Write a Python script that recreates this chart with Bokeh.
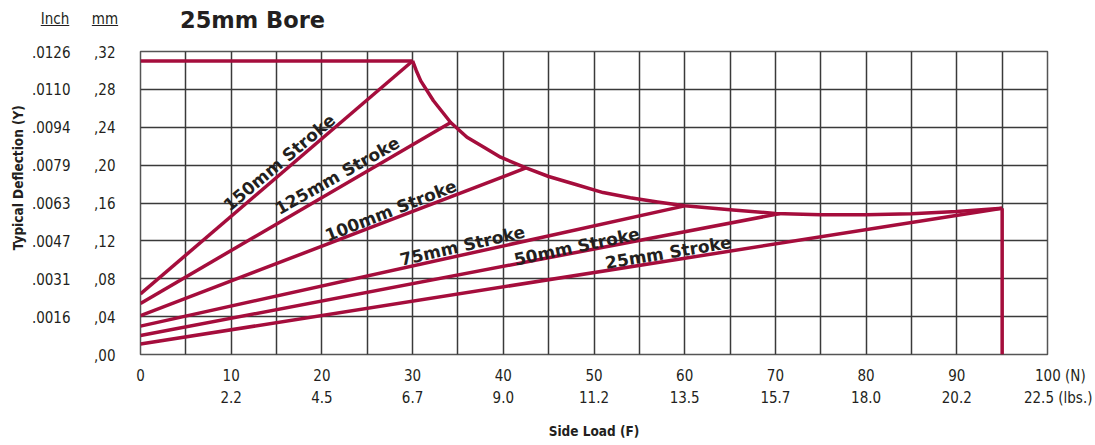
from bokeh.plotting import figure
from bokeh.models import FixedTicker, LinearAxis, Range1d, Div
from bokeh.layouts import column
from bokeh.core.properties import value
from bokeh.embed import file_html
from bokeh.resources import INLINE

# ---------------- data ----------------
strokes = ["150mm Stroke", "125mm Stroke", "100mm Stroke", "75mm Stroke", "50mm Stroke", "25mm Stroke"]
stroke_start_mm = [0.064, 0.054, 0.041, 0.030, 0.020, 0.011]   # deflection at 0 N
stroke_end_load = [30, 34.2, 42.5, 60, 70.5, 95]                 # N where line meets the envelope
stroke_end_mm = [0.310, 0.245, 0.197, 0.157, 0.1488, 0.1545]

plateau_load = [0, 30]
plateau_mm = [0.310, 0.310]

envelope_load = [30, 30.4, 30.9, 32.3, 34.2, 36, 38, 39.7, 42.5, 45, 48, 51, 54, 57, 60, 65, 70, 75, 80, 85, 90, 95]
envelope_mm = [0.310, 0.300, 0.289, 0.268, 0.245, 0.2295, 0.218, 0.2084, 0.197, 0.188, 0.1795, 0.171,
               0.1655, 0.161, 0.157, 0.1528, 0.149, 0.1477, 0.1475, 0.1486, 0.151, 0.1545]

limit_load = [95, 95]
limit_mm = [0.1545, 0.0]

n_ticks = [0, 10, 20, 30, 40, 50, 60, 70, 80, 90, 100]
n_labels = ["0", "10", "20", "30", "40", "50", "60", "70", "80", "90", "100 (N)"]
lbs_labels = ["", "2.2", "4.5", "6.7", "9.0", "11.2", "13.5", "15.7", "18.0", "20.2", "22.5 (lbs.)"]

mm_ticks = [0.0, 0.04, 0.08, 0.12, 0.16, 0.2, 0.24, 0.28, 0.32]
mm_labels = [",00", ",04", ",08", ",12", ",16", ",20", ",24", ",28", ",32"]
inch_labels = ["", ".0016", ".0031", ".0047", ".0063", ".0079", ".0094", ".0110", ".0126"]

title_text = "25mm Bore"
inch_header = "Inch"
mm_header = "mm"
y_title = "Typical Deflection (Y)"
x_title = "Side Load (F)"

# caption anchors for the stroke labels (load N, deflection mm, angle deg)
cap_load = [15.3, 21.7, 27.6, 35.5, 48.1, 58.2]
cap_mm = [0.2028, 0.189, 0.152, 0.115, 0.114, 0.1077]
cap_angle = [40, 29.5, 21.5, 13, 12, 9.5]

# ---------------- style ----------------
RED = "#a50d3c"
INK = "#231f20"
GRID = "#3a3a3a"
NARROW = "DejaVu Sans Condensed, Liberation Sans"
BOLD = "DejaVu Sans"
NB = "\u00a0"

HEADER_H = 40
p = figure(width=1095, height=445 - HEADER_H, x_range=Range1d(0, 100), y_range=Range1d(0, 0.32),
           output_backend="svg", toolbar_location=None,
           min_border_left=140, min_border_right=48, min_border_top=51 - HEADER_H, min_border_bottom=91)
p.background_fill_color = "white"
p.border_fill_color = "white"
p.outline_line_color = "#555555"
p.outline_line_width = 1.5

p.xgrid.ticker = FixedTicker(ticks=list(range(0, 101, 5)))
p.ygrid.ticker = FixedTicker(ticks=mm_ticks)
for g in (p.xgrid[0], p.ygrid[0]):
    g.grid_line_color = GRID
    g.grid_line_width = 1.5
    g.grid_line_alpha = 1.0

mm_axis = p.yaxis[0]
inch_axis = LinearAxis()
p.add_layout(inch_axis, "left")
n_axis = p.xaxis[0]
lbs_axis = LinearAxis()
p.add_layout(lbs_axis, "below")

# keep the first number of the last label centred on its tick
n_over = {t: l for t, l in zip(n_ticks, n_labels)}
n_over[100] = NB * 6 + n_labels[-1].replace(" ", NB)
lbs_over = {t: l for t, l in zip(n_ticks, lbs_labels)}
lbs_over[100] = NB * 5 + lbs_labels[-1].replace(" ", NB)

mm_axis.ticker = FixedTicker(ticks=mm_ticks)
mm_axis.major_label_overrides = {t: l for t, l in zip(mm_ticks, mm_labels)}
inch_axis.ticker = FixedTicker(ticks=mm_ticks)
inch_axis.major_label_overrides = {t: l for t, l in zip(mm_ticks, inch_labels)}
n_axis.ticker = FixedTicker(ticks=n_ticks)
n_axis.major_label_overrides = n_over
lbs_axis.ticker = FixedTicker(ticks=n_ticks)
lbs_axis.major_label_overrides = lbs_over

for ax in (mm_axis, inch_axis, n_axis, lbs_axis):
    ax.axis_line_color = None
    ax.major_tick_line_color = None
    ax.minor_tick_line_color = None
    ax.major_tick_out = 0
    ax.major_tick_in = 0
    ax.minor_tick_out = 0
    ax.minor_tick_in = 0
    ax.major_label_text_font = NARROW
    ax.major_label_text_font_size = "15px"
    ax.major_label_text_color = INK

mm_axis.major_label_standoff = 25
inch_axis.major_label_standoff = 21
n_axis.major_label_standoff = 12
lbs_axis.major_label_standoff = 1

# leading no-break spaces lift the vertical title a little, as in the original
inch_axis.axis_label = NB * 12 + y_title
inch_axis.axis_label_standoff = 3
lbs_axis.axis_label = x_title
lbs_axis.axis_label_standoff = 13
for ax in (inch_axis, lbs_axis):
    ax.axis_label_text_font = NARROW
    ax.axis_label_text_font_style = "bold"
    ax.axis_label_text_font_size = "13.5px"
    ax.axis_label_text_color = INK

# ---------------- curves ----------------
LW = 3.5
for x1, y0, y1 in zip(stroke_end_load, stroke_start_mm, stroke_end_mm):
    p.line([0, x1], [y0, y1], line_color=RED, line_width=LW)
p.line(plateau_load, plateau_mm, line_color=RED, line_width=LW)
p.line(envelope_load, envelope_mm, line_color=RED, line_width=LW, line_join="round")
p.line(limit_load, limit_mm, line_color=RED, line_width=LW)

p.text(x=cap_load, y=cap_mm, text=strokes, angle=cap_angle, angle_units="deg",
       text_font=value(BOLD), text_font_style="bold", text_font_size="17px",
       text_align="center", text_baseline="middle", text_color=INK)

# ---------------- header row (Inch / mm / title) ----------------
narrow_css = "font-family:'DejaVu Sans Condensed','Liberation Sans',sans-serif;font-size:15px;line-height:1;"
header_html = (
    f'<div style="position:relative;width:1095px;height:{HEADER_H}px;color:{INK};">'
    f'<span style="position:absolute;left:35px;top:12px;width:40px;text-align:center;'
    f'{narrow_css}text-decoration:underline;">{inch_header}</span>'
    f'<span style="position:absolute;left:85px;top:12px;width:40px;text-align:center;'
    f'{narrow_css}text-decoration:underline;">{mm_header}</span>'
    f'<span style="position:absolute;left:180px;top:9px;white-space:nowrap;'
    f'font-family:\'DejaVu Sans\',sans-serif;font-weight:bold;font-size:22.5px;line-height:1;">{title_text}</span>'
    '</div>'
)
header = Div(text=header_html, width=1095, height=HEADER_H, margin=0)

layout = column(header, p, spacing=0)
open("out.html", "w").write(file_html(layout, INLINE))
